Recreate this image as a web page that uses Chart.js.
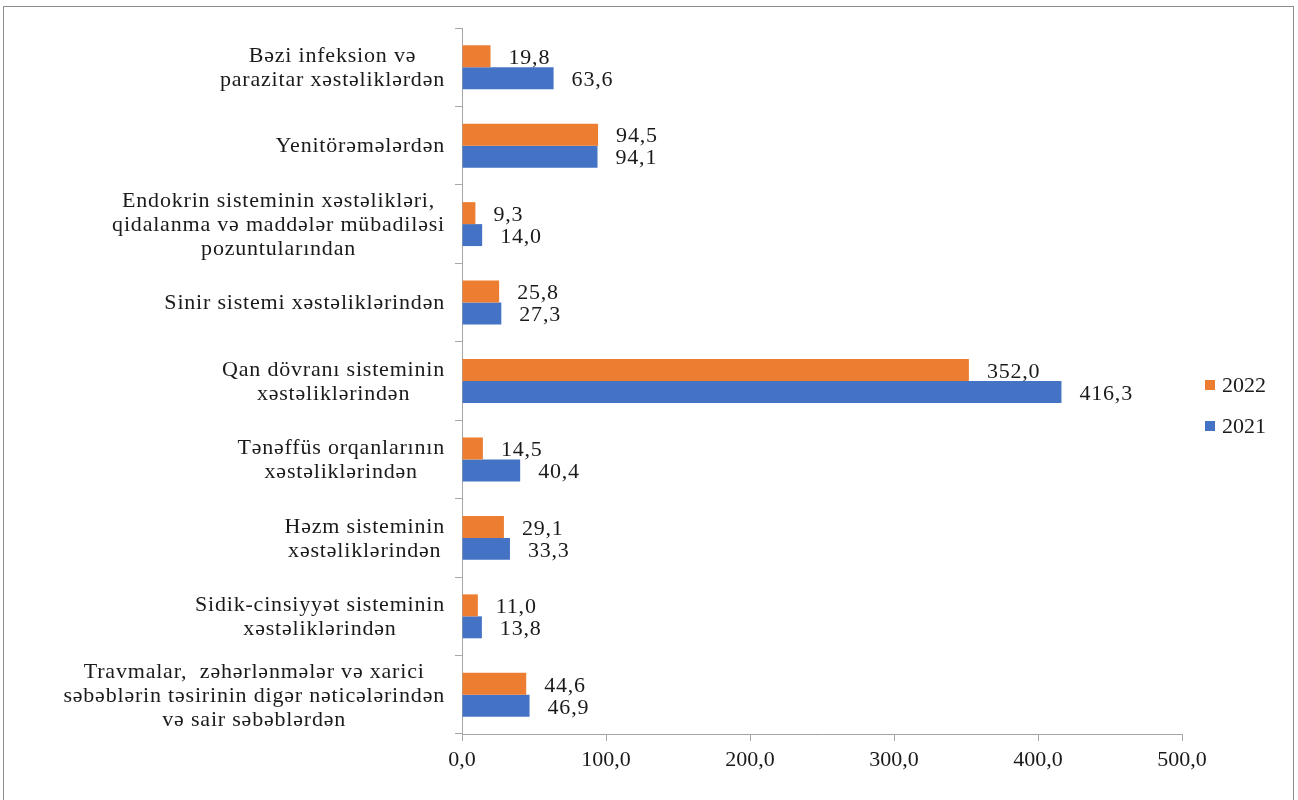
<!DOCTYPE html>
<html lang="az">
<head>
  <meta charset="UTF-8">
  <title>Ölüm səbəbləri</title>
  <script src="https://cdn.jsdelivr.net/npm/chart.js"></script>
  <style>
    body { margin: 0; background: #fff; }
    #wrap { position: relative; width: 1298px; height: 800px; overflow: hidden; }
    #frame { position: absolute; left: 3px; top: 6px; width: 1289px; height: 820px; border: 1px solid #8c8c8c; }
    canvas { position: absolute; left: 0; top: 0; }
  </style>
</head>
<body>
<div id="wrap">
  <div id="frame"></div>
  <canvas id="chart" width="1298" height="800"></canvas>
</div>

<script>
const categories = [
  ["Bəzi infeksion və", "parazitar xəstəliklərdən"],
  ["Yenitörəmələrdən"],
  ["Endokrin sisteminin xəstəlikləri,", "qidalanma və maddələr mübadiləsi", "pozuntularından"],
  ["Sinir sistemi xəstəliklərindən"],
  ["Qan dövranı sisteminin", "xəstəliklərindən"],
  ["Tənəffüs orqanlarının", "xəstəliklərindən"],
  ["Həzm sisteminin", "xəstəliklərindən"],
  ["Sidik-cinsiyyət sisteminin", "xəstəliklərindən"],
  ["Travmalar,  zəhərlənmələr və xarici", "səbəblərin təsirinin digər nəticələrindən", "və sair səbəblərdən"]
];
const values2022 = [19.8, 94.5, 9.3, 25.8, 352.0, 14.5, 29.1, 11.0, 44.6];
const values2021 = [63.6, 94.1, 14.0, 27.3, 416.3, 40.4, 33.3, 13.8, 46.9];
const seriesNames = ["2022", "2021"];
const xTicks = [0, 100, 200, 300, 400, 500];

const ORANGE = "#ED7D31";
const BLUE = "#4472C4";
const AXIS = "#a6a6a6";
const TEXT = "#1a1a1a";
const FONT = "Liberation Serif";

const fmt = v => v.toFixed(1).replace(".", ",");

// kateqoriya adlari: blok saga duzlenir, setirler blok icinde ortalanir
const catLabels = {
  id: "catLabels",
  afterDraw(chart) {
    const ctx = chart.ctx;
    const y = chart.scales.y;
    ctx.save();
    ctx.font = "22px '" + FONT + "'";
    ctx.letterSpacing = "0.8px";
    ctx.fillStyle = TEXT;
    ctx.textBaseline = "middle";
    ctx.textAlign = "center";
    const lh = 24;
    chart.data.labels.forEach((lines, i) => {
      const cy = y.getPixelForValue(i);
      const w = Math.max(...lines.map(l => ctx.measureText(l).width));
      const cx = y.right - 17 - w / 2;
      lines.forEach((l, k) => {
        ctx.fillText(l, cx, cy + (k - (lines.length - 1) / 2) * lh + 1);
      });
    });
    ctx.restore();
  }
};

const valueLabels = {
  id: "valueLabels",
  afterDatasetsDraw(chart) {
    const ctx = chart.ctx;
    ctx.save();
    ctx.font = "22px '" + FONT + "'";
    ctx.letterSpacing = "0.8px";
    ctx.fillStyle = TEXT;
    ctx.textAlign = "left";
    ctx.textBaseline = "middle";
    chart.data.datasets.forEach((ds, di) => {
      chart.getDatasetMeta(di).data.forEach((bar, i) => {
        ctx.fillText(fmt(ds.data[i]), bar.x + 18, bar.y + 2);
      });
    });
    ctx.restore();
  }
};

const sideLegend = {
  id: "sideLegend",
  afterDraw(chart) {
    const ctx = chart.ctx;
    ctx.save();
    ctx.font = "22px '" + FONT + "'";
    ctx.textBaseline = "middle";
    ctx.textAlign = "left";
    chart.data.datasets.forEach((ds, i) => {
      const top = 380 + i * 41;
      ctx.fillStyle = ds.backgroundColor;
      ctx.fillRect(1205, top, 10, 10);
      ctx.fillStyle = TEXT;
      ctx.fillText(ds.label, 1222, top + 6);
    });
    ctx.restore();
  }
};

new Chart(document.getElementById("chart"), {
  type: "bar",
  data: {
    labels: categories,
    datasets: [
      { label: seriesNames[0], data: values2022, backgroundColor: ORANGE },
      { label: seriesNames[1], data: values2021, backgroundColor: BLUE }
    ]
  },
  options: {
    indexAxis: "y",
    responsive: false,
    animation: false,
    categoryPercentage: 0.56,
    barPercentage: 1,
    layout: { padding: { top: 28, right: 116, bottom: 0, left: 0 } },
    plugins: {
      legend: { display: false },
      tooltip: { enabled: false }
    },
    scales: {
      x: {
        min: 0,
        max: 500,
        afterBuildTicks: s => { s.ticks = xTicks.map(v => ({ value: v })); },
        afterFit: s => { s.height = 66; },
        border: { color: AXIS, width: 1 },
        grid: { drawOnChartArea: false, drawTicks: true, tickLength: 7, color: AXIS },
        ticks: {
          padding: 6,
          color: TEXT,
          font: { family: FONT, size: 22 },
          callback: v => fmt(v)
        }
      },
      y: {
        afterFit: s => { s.width = 462; },
        border: { color: AXIS, width: 1 },
        grid: { drawOnChartArea: false, drawTicks: true, tickLength: 7, color: AXIS, offset: true },
        ticks: { display: false }
      }
    }
  },
  plugins: [catLabels, valueLabels, sideLegend]
});
</script>
</body>
</html>
